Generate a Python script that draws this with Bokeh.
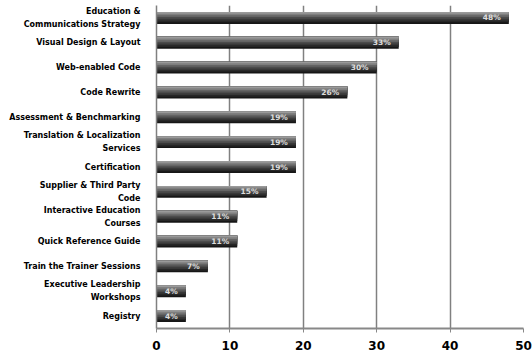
from bokeh.plotting import figure
from bokeh.models import ColumnDataSource, FixedTicker, Range1d
from bokeh.transform import dodge
from bokeh.core.properties import value
from bokeh.embed import file_html
from bokeh.resources import INLINE

categories = [
    "Education &\nCommunications Strategy",
    "Visual Design & Layout",
    "Web-enabled Code",
    "Code Rewrite",
    "Assessment & Benchmarking",
    "Translation & Localization\nServices",
    "Certification",
    "Supplier & Third Party\nCode",
    "Interactive Education\nCourses",
    "Quick Reference Guide",
    "Train the Trainer Sessions",
    "Executive Leadership\nWorkshops",
    "Registry",
]
values = [48, 33, 30, 26, 19, 19, 19, 15, 11, 11, 7, 4, 4]
pct_labels = [f"{v}%" for v in values]
x_ticks = [0, 10, 20, 30, 40, 50]

n = len(categories)
ypos = [n - 1 - i for i in range(n)]
src = ColumnDataSource(dict(y=ypos, v=values, lab=pct_labels, lx=[v - 1.1 for v in values]))

p = figure(width=532, height=356, output_backend="svg", toolbar_location=None,
           x_range=Range1d(0, 50), y_range=Range1d(-0.5, n - 0.5),
           min_border_left=156, min_border_right=9, min_border_top=5, min_border_bottom=28)
p.outline_line_color = None
p.background_fill_color = "white"

# gradient bars: layered rectangles anchored at the bar top (no seams)
slice_colors = ["#9a9a9a", "#7e7e7e", "#646464", "#4c4c4c", "#383838", "#262626", "#161616"]
bh = 0.48
m = len(slice_colors)
sh = bh / m
for k in range(m - 1, -1, -1):
    h = (k + 1) * sh
    off = bh / 2 - h / 2
    p.hbar(y=dodge("y", off), right="v", left=0, height=h, source=src,
           fill_color=slice_colors[k], line_color=None)

p.text(x="lx", y="y", text="lab", source=src, text_align="right", text_baseline="middle",
       text_color="#dddddd", text_font=value("DejaVu Sans"), text_font_style="bold",
       text_font_size="7.5px")

p.xgrid.ticker = FixedTicker(ticks=x_ticks)
p.xgrid.grid_line_color = "#808080"
p.xgrid.grid_line_width = 1.5
p.ygrid.grid_line_color = None

p.xaxis.ticker = FixedTicker(ticks=x_ticks)
p.xaxis.axis_line_color = "#888888"
p.xaxis.axis_line_width = 2
p.xaxis.major_tick_line_color = "#888888"
p.xaxis.major_tick_out = 4
p.xaxis.major_tick_in = 0
p.xaxis.minor_tick_line_color = None
p.xaxis.major_label_text_font = "DejaVu Sans"
p.xaxis.major_label_text_font_style = "bold"
p.xaxis.major_label_text_font_size = "12px"
p.xaxis.major_label_text_color = "black"
p.xaxis.major_label_standoff = 8

p.yaxis.ticker = FixedTicker(ticks=ypos)
p.yaxis.major_label_overrides = {y: c for y, c in zip(ypos, categories)}
p.yaxis.axis_line_color = "#808080"
p.yaxis.axis_line_width = 1.5
p.yaxis.major_tick_line_color = None
p.yaxis.minor_tick_line_color = None
p.yaxis.major_label_text_font = "DejaVu Sans"
p.yaxis.major_label_text_font_style = "bold"
p.yaxis.major_label_text_font_size = "8px"
p.yaxis.major_label_text_color = "black"
p.yaxis.major_label_text_line_height = 1.45
p.yaxis.major_label_standoff = 10

open("out.html", "w").write(file_html(p, INLINE))
